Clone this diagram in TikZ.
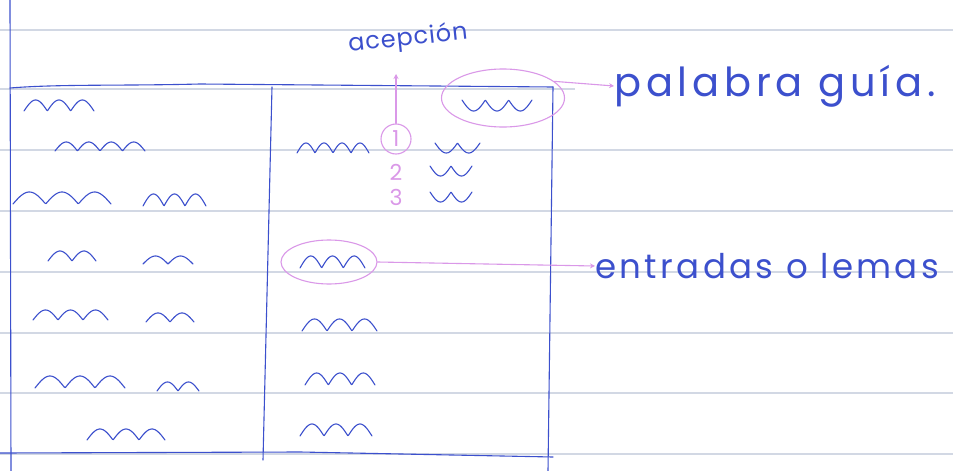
\documentclass[tikz,border=0pt]{standalone}
\usepackage{fontspec}
\setmainfont{Poppins}
\newfontfamily\guidefont[LetterSpace=12]{Poppins}
\newfontfamily\lemmafont[LetterSpace=10]{Poppins}
\newfontfamily\sensefont[LetterSpace=4]{Poppins}
\usetikzlibrary{shapes.geometric,arrows.meta}
\definecolor{ink}{RGB}{60,80,205}
\definecolor{pinkink}{RGB}{218,152,232}
\definecolor{paperline}{RGB}{210,216,228}
\tikzset{
  inkline/.style={draw=ink, line width=1.1pt, line cap=round, line join=round},
  pinkline/.style={draw=pinkink, line width=1.1pt, line cap=round},
  rule/.style={draw=paperline, line width=1.3pt},
  pinkarrow/.style={pinkline, -{Stealth[length=5pt,width=5pt]}},
  handtext/.style={text=ink, inner sep=0pt},
  pinktext/.style={text=pinkink, inner sep=0pt, font=\fontsize{22}{22}\selectfont},
  wordring/.style={ellipse, draw=pinkink, line width=1.1pt, inner sep=0pt},
}
% squiggle: x, baseline y, width, humps, amplitude (negative = u-shaped)
\newcommand\squig[5]{\draw[inkline] plot[domain=0:#3, samples=90, smooth] ({#1+\x},{#2-(#5)*abs(sin(\x/#3*#4*180))});}
\begin{document}
\begin{tikzpicture}[x=1pt,y=-1pt]
\useasboundingbox (0,0) rectangle (953,471);
\fill[white] (0,0) rectangle (953,471);
% paper ruling
\foreach \yy in {30,150,211,272,333,393,454} \draw[rule] (0,\yy) -- (953,\yy);
\draw[rule] (0,89) -- (575,89);
% margin / box
\draw[inkline] (10,0) -- (11,471);
\draw[inkline] (10,88) .. controls (60,84) and (120,86) .. (200,84) -- (553,87);
\draw[inkline] (553,87) -- (548,471);
\draw[inkline] (272,87) -- (263,460);
\draw[inkline] (0,453) -- (300,452) -- (553,457);
% left column squiggles
\squig{24}{111}{70}{3}{11}
\squig{55}{151}{90}{4}{9}
\squig{13}{204}{98}{3}{12}
\squig{143}{206}{63}{3}{12}
\squig{48}{261}{48}{2}{10}
\squig{143}{264}{50}{2}{8}
\squig{33}{320}{75}{3}{10}
\squig{146}{322}{48}{2}{9}
\squig{35}{388}{90}{3}{12}
\squig{157}{391}{42}{2}{9}
\squig{87}{440}{78}{3}{11}
% right column squiggles
\squig{297}{153}{72}{4}{10}
\squig{462}{100}{70}{3}{-11}
\squig{435}{143}{45}{2}{-10}
\squig{430}{166}{42}{2}{-10}
\squig{430}{192}{42}{2}{-10}
\squig{300}{268}{65}{3}{12}
\squig{302}{331}{75}{3}{12}
\squig{305}{385}{70}{3}{12}
\squig{300}{436}{72}{3}{12}
% annotations
\node[wordring, minimum width=123pt, minimum height=58pt] (guide) at (503,98) {};
\node[wordring, minimum width=96pt, minimum height=44pt] (entry) at (329,262) {};
\node[circle, draw=pinkink, line width=1.1pt, minimum size=30pt, inner sep=0pt, pinktext] (one) at (396,139) {1};
\node[pinktext] (two) at (396,172) {2};
\node[pinktext] (three) at (396,197) {3};
\node[handtext, font=\sensefont\fontsize{24}{24}\selectfont, rotate=6] (sense) at (408,39) {acepción};
\node[handtext, font=\guidefont\fontsize{40}{40}\selectfont, anchor=west] (guideword) at (614,86) {palabra guía.};
\node[handtext, font=\lemmafont\fontsize{34}{34}\selectfont, anchor=west] (lemma) at (595,266) {entradas o lemas};
\coordinate (senseend) at (396,74);
\draw[pinkarrow] (one.north) -- (senseend);
\draw[pinkarrow] (guide.18) -- (guideword.west);
\draw[pinkarrow] (entry.east) -- (lemma.west);
\end{tikzpicture}
\end{document}
